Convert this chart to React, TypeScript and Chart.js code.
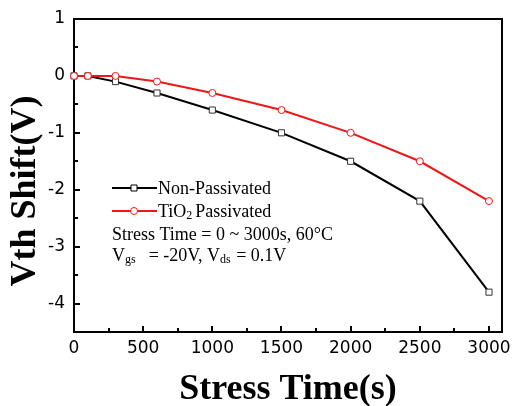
import React, { useEffect, useRef } from 'react';
import { Chart, registerables } from 'chart.js';

Chart.register(...registerables);

const times = [0, 100, 300, 600, 1000, 1500, 2000, 2500, 3000];
const nonPassivated = [0, 0, -0.1, -0.3, -0.6, -1.0, -1.5, -2.2, -3.8];
const tio2Passivated = [0, 0, 0, -0.1, -0.3, -0.6, -1.0, -1.5, -2.2];
const xTicks = [0, 500, 1000, 1500, 2000, 2500, 3000];
const xMinorTicks = [250, 750, 1250, 1750, 2250, 2750];
const yTicks = [1, 0, -1, -2, -3, -4];
const yMinorTicks = [0.5, -0.5, -1.5, -2.5, -3.5];
const xTitle = 'Stress Time(s)';
const yTitle = 'Vth Shift(V)';

const RED = 'rgb(240,22,22)';
const SERIF = '"Liberation Serif", "Times New Roman", serif';
const SANS = '"DejaVu Sans", sans-serif';

const framePlugin = {
  id: 'frame',
  beforeDatasetsDraw(chart: any) {
    const { ctx, chartArea: a, scales } = chart;
    const x = scales.x;
    const y = scales.y;
    ctx.save();
    ctx.strokeStyle = '#000';
    ctx.lineWidth = 2;
    ctx.strokeRect(a.left, a.top, a.right - a.left, a.bottom - a.top);
    ctx.beginPath();
    xTicks.forEach((v) => {
      const px = Math.round(x.getPixelForValue(v));
      ctx.moveTo(px, a.bottom);
      ctx.lineTo(px, a.bottom - 6);
    });
    xMinorTicks.forEach((v) => {
      const px = Math.round(x.getPixelForValue(v));
      ctx.moveTo(px, a.bottom);
      ctx.lineTo(px, a.bottom - 4);
    });
    yTicks.forEach((v) => {
      const py = Math.round(y.getPixelForValue(v));
      ctx.moveTo(a.left, py);
      ctx.lineTo(a.left + 6, py);
    });
    yMinorTicks.forEach((v) => {
      const py = Math.round(y.getPixelForValue(v));
      ctx.moveTo(a.left, py);
      ctx.lineTo(a.left + 4, py);
    });
    ctx.stroke();
    ctx.restore();
  },
  afterDraw(chart: any) {
    const { ctx, chartArea: a } = chart;
    ctx.save();
    ctx.fillStyle = '#000';
    // axis titles
    ctx.font = `bold 36px ${SERIF}`;
    ctx.textAlign = 'center';
    ctx.textBaseline = 'alphabetic';
    ctx.fillText(xTitle, (a.left + a.right) / 2, 399);
    ctx.save();
    ctx.translate(35, 191);
    ctx.rotate(-Math.PI / 2);
    ctx.fillText(yTitle, 0, 0);
    ctx.restore();

    // legend
    ctx.textAlign = 'left';
    const lx0 = 112;
    const lx1 = 157;
    const mx = 134;
    const tx = 158;
    const rows = [194, 217, 240, 261];
    const ds = chart.data.datasets;
    const drawSample = (row: number, color: string, square: boolean) => {
      const yy = rows[row] - 6;
      ctx.strokeStyle = color;
      ctx.lineWidth = 2;
      ctx.beginPath();
      ctx.moveTo(lx0, yy);
      ctx.lineTo(lx1, yy);
      ctx.stroke();
      ctx.fillStyle = '#fff';
      ctx.lineWidth = 1;
      ctx.beginPath();
      if (square) {
        ctx.rect(mx - 3, yy - 3, 6, 6);
      } else {
        ctx.arc(mx, yy, 3.5, 0, Math.PI * 2);
      }
      ctx.fill();
      ctx.stroke();
    };
    drawSample(0, ds[1].borderColor, true);
    drawSample(1, ds[0].borderColor, false);

    ctx.fillStyle = '#000';
    const big = `18px ${SERIF}`;
    const small = `12px ${SERIF}`;
    ctx.font = big;
    ctx.fillText(ds[1].label, tx, rows[0]);

    // TiO2 Passivated
    let cx = tx;
    ctx.font = big;
    ctx.fillText('TiO', cx, rows[1]);
    cx += ctx.measureText('TiO').width;
    ctx.font = small;
    ctx.fillText('2', cx, rows[1] + 2);
    cx += ctx.measureText('2').width + 3;
    ctx.font = big;
    ctx.fillText('Passivated', cx, rows[1]);

    ctx.fillText('Stress Time = 0 ~ 3000s, 60\u00B0C', 112, rows[2]);

    // Vgs = -20V, Vds = 0.1V
    cx = 112;
    ctx.font = big;
    ctx.fillText('V', cx, rows[3]);
    cx += ctx.measureText('V').width;
    ctx.font = small;
    ctx.fillText('gs', cx, rows[3] + 2);
    cx += ctx.measureText('gs').width + 13;
    ctx.font = big;
    const mid = '= -20V, V';
    ctx.fillText(mid, cx, rows[3]);
    cx += ctx.measureText(mid).width;
    ctx.font = small;
    ctx.fillText('ds', cx, rows[3] + 2);
    cx += ctx.measureText('ds').width + 1;
    ctx.font = big;
    ctx.fillText(' = 0.1V', cx, rows[3]);
    ctx.restore();
  },
};

export default function App() {
  const ref = useRef<HTMLCanvasElement | null>(null);
  useEffect(() => {
    if (!ref.current) return;
    const chart = new Chart(ref.current, {
      type: 'line',
      data: {
        datasets: [
          {
            label: 'TiO2 Passivated',
            data: times.map((t, i) => ({ x: t, y: tio2Passivated[i] })),
            borderColor: RED,
            backgroundColor: '#fff',
            borderWidth: 2,
            pointStyle: 'circle',
            pointRadius: 3.5,
            pointBorderWidth: 1,
            pointBackgroundColor: '#fff',
            pointBorderColor: RED,
            tension: 0,
            clip: false,
            order: 0,
          },
          {
            label: 'Non-Passivated',
            data: times.map((t, i) => ({ x: t, y: nonPassivated[i] })),
            borderColor: '#000',
            backgroundColor: '#fff',
            borderWidth: 2,
            pointStyle: 'rect',
            pointRadius: 4.3,
            pointBorderWidth: 1,
            pointBackgroundColor: '#fff',
            pointBorderColor: '#333',
            tension: 0,
            clip: false,
            order: 1,
          },
        ],
      },
      plugins: [framePlugin],
      options: {
        animation: false,
        responsive: false,
        devicePixelRatio: 1,
        layout: { padding: { left: 0, top: 19, right: 11, bottom: 0 } },
        plugins: { legend: { display: false }, tooltip: { enabled: false } },
        scales: {
          x: {
            type: 'linear',
            min: 0,
            max: 3094,
            grid: { display: false, drawTicks: false },
            border: { display: false },
            afterBuildTicks: (s: any) => {
              s.ticks = xTicks.map((v) => ({ value: v }));
            },
            afterFit: (s: any) => {
              s.height = 74;
              s.paddingLeft = 0;
              s.paddingRight = 0;
            },
            ticks: {
              padding: 6,
              color: '#000',
              maxRotation: 0,
              autoSkip: false,
              callback: (v: any) => String(v),
              font: { family: SANS, size: 17 },
            },
          },
          y: {
            type: 'linear',
            min: -4.5,
            max: 1,
            grid: { display: false, drawTicks: false },
            border: { display: false },
            afterBuildTicks: (s: any) => {
              s.ticks = yTicks.map((v) => ({ value: v }));
            },
            afterFit: (s: any) => {
              s.width = 74;
              s.paddingTop = 0;
              s.paddingBottom = 0;
            },
            ticks: {
              padding: 9,
              color: '#000',
              autoSkip: false,
              callback: (v: any) => String(v),
              font: { family: SANS, size: 17 },
            },
          },
        },
      },
    } as any);
    return () => chart.destroy();
  }, []);
  return (
    <div style={{ position: 'fixed', left: 0, top: 0, width: 513, height: 406, background: '#fff' }}>
      <canvas ref={ref} width={513} height={406} style={{ display: 'block', width: 513, height: 406 }} />
    </div>
  );
}
